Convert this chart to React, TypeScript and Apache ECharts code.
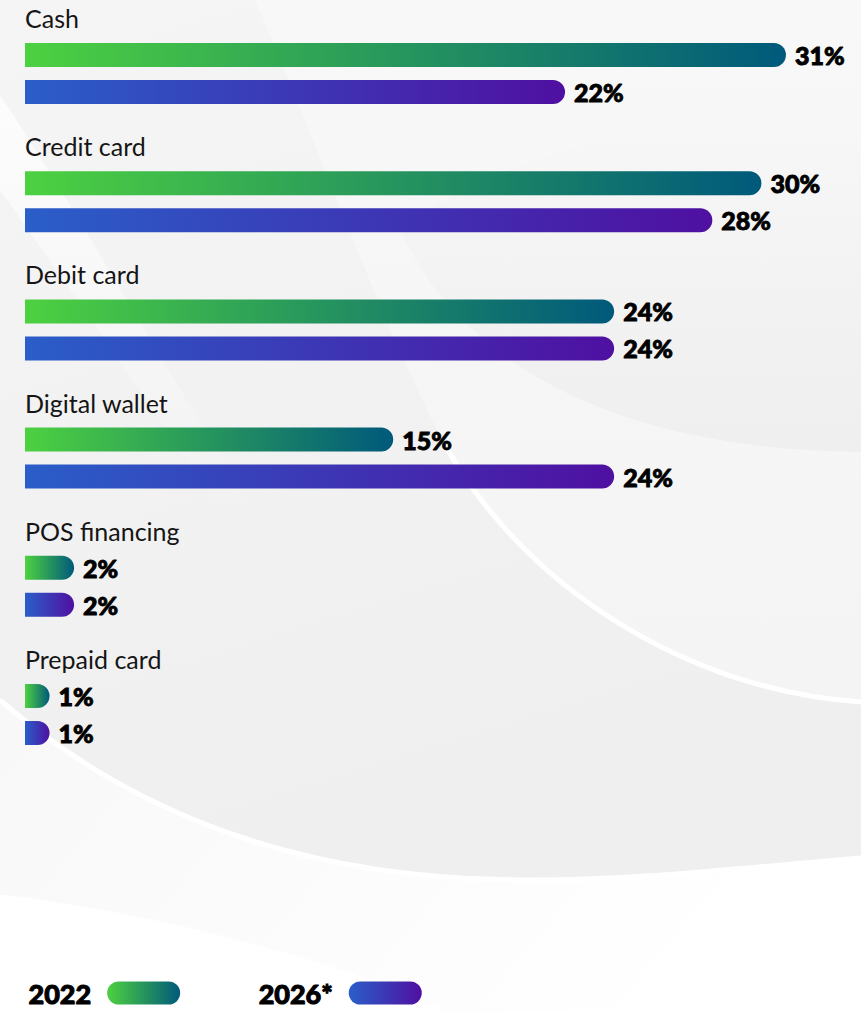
import React, { useEffect, useRef } from "react";
import * as echarts from "echarts";

const categories = ["Cash", "Credit card", "Debit card", "Digital wallet", "POS financing", "Prepaid card"];
const values2022 = [31, 30, 24, 15, 2, 1];
const values2026 = [22, 28, 24, 24, 2, 1];
const seriesNames = ["2022", "2026*"];

const greenStops = ["#4dd140", "#00597b"];
const blueStops = ["#2a5ec9", "#4f10a1"];

const FONT = "Lato, 'Noto Sans', sans-serif";

function grad(stops: string[]) {
  return new echarts.graphic.LinearGradient(0, 0, 1, 0, [
    { offset: 0, color: stops[0] },
    { offset: 1, color: stops[1] },
  ]);
}

const C1 = "M445,445 C520,580 680,690 861,702";
const C2 = "M0,700 C150,830 330,880 527,880 C650,880 760,866 861,858";
const C3 = "M0,897 C150,915 330,960 440,1011";

export default function App() {
  const ref = useRef<HTMLDivElement>(null);
  useEffect(() => {
    document.body.style.margin = "0";
    const reg = (name: string, d: string) =>
      echarts.graphic.registerShape(name, echarts.graphic.extendPath(d, {}) as any);
    reg("bgRight", "M255,0 L861,0 L861,702 C680,690 520,580 445,445 C380,320 320,150 255,0 Z");
    reg("bgInner", "M400,230 C470,380 640,450 861,452 L861,120 C700,110 520,140 400,230 Z");
    reg("bgMid", "M0,420 L0,700 C150,830 330,880 527,880 C650,880 760,866 861,858 L861,702 C680,690 520,580 445,445 C380,320 320,150 255,0 L0,0 Z");
    reg("bgLow", "M0,700 C150,830 330,880 527,880 C650,880 760,866 861,858 L861,1011 L0,1011 Z");
    reg("bgBottom", "M0,897 C150,915 330,960 440,1011 L0,1011 Z");
    reg("bgBand", "M0,95 C90,230 170,380 262,520 L225,520 C150,400 70,290 0,190 Z");
    reg("lineC1", C1);
    reg("lineC2", C2);
    reg("lineC3", C3);

    const chart = echarts.init(ref.current!, null, { renderer: "svg" });
    const vGrad = (a: string, b: string, x2 = 0, y2 = 1) =>
      new echarts.graphic.LinearGradient(0, 0, x2, y2, [
        { offset: 0, color: a },
        { offset: 1, color: b },
      ]);
    const bg: any[] = [
      { type: "rect", shape: { x: 0, y: 0, width: 861, height: 1011 }, style: { fill: vGrad("#f0f0f0", "#fdfdfd", 1, 1) } },
      { type: "bgMid", style: { fill: vGrad("#f5f5f5", "#efefef", 0.3, 1) } },
      { type: "bgRight", style: { fill: vGrad("#f8f8f8", "#f4f4f4", 0, 1) } },
      { type: "bgInner", style: { fill: vGrad("rgba(239,239,239,0)", "rgba(239,239,239,1)", 0, 1) } },
      { type: "bgLow", style: { fill: vGrad("#f8f8f8", "#ffffff", 1, 0.3) } },
      { type: "bgBottom", style: { fill: "#ffffff" } },
      { type: "bgBand", style: { fill: vGrad("rgba(255,255,255,0.75)", "rgba(255,255,255,0)", 0, 1) } },
      { type: "lineC1", style: { fill: "none", stroke: "#ffffff", lineWidth: 5 } },
      { type: "lineC2", style: { fill: "none", stroke: "#ffffff", lineWidth: 5 } },
      { type: "lineC3", style: { fill: "none", stroke: "#ffffff", lineWidth: 5 } },
    ].map((e) => ({ ...e, z: -10, silent: true }));

    const valueLabel = {
      show: true,
      position: "right",
      distance: 9,
      formatter: "{c}%",
      fontFamily: FONT,
      fontWeight: 900,
      fontSize: 25,
      color: "#000",
      textBorderColor: "#000",
      textBorderWidth: 0.9,
    };
    const pill = "path://M11.5,0 L61.5,0 A11.5,11.5 0 0 1 61.5,23 L11.5,23 A11.5,11.5 0 0 1 11.5,0 Z";
    const GAP = "54.17%";

    chart.setOption({
      animation: false,
      backgroundColor: "#f6f6f6",
      graphic: { elements: bg },
      grid: { left: 25, right: 50.5, top: 0, bottom: 241.8 },
      xAxis: { type: "value", min: 0, max: 32, show: false },
      yAxis: { type: "category", data: categories, inverse: true, show: false },
      legend: {
        data: seriesNames.map((n, i) => ({ name: n, itemStyle: { color: grad(i === 0 ? greenStops : blueStops) } })),
        left: 28,
        top: 979,
        padding: 0,
        align: "right",
        itemWidth: 73,
        itemHeight: 23,
        itemGap: 78,
        icon: pill,
        selectedMode: false,
        textStyle: {
          fontFamily: FONT,
          fontWeight: 900,
          fontSize: 27,
          lineHeight: 28,
          color: "#000",
          textBorderColor: "#000",
          textBorderWidth: 1,
          padding: [0, 11, 0, 0],
        },
      },
      series: [
        {
          name: "category",
          type: "bar",
          data: categories.map(() => 0),
          barWidth: 24,
          barGap: GAP,
          silent: true,
          itemStyle: { color: "transparent" },
          label: {
            show: true,
            position: "right",
            distance: 0,
            formatter: (p: any) => categories[p.dataIndex],
            fontFamily: FONT,
            fontSize: 25,
            color: "#151515",
          },
        },
        {
          name: seriesNames[0],
          type: "bar",
          data: values2022,
          barWidth: 24,
          barGap: GAP,
          itemStyle: { color: grad(greenStops), borderRadius: [0, 12, 12, 0] },
          label: valueLabel,
        },
        {
          name: seriesNames[1],
          type: "bar",
          data: values2026,
          barWidth: 24,
          barGap: GAP,
          itemStyle: { color: grad(blueStops), borderRadius: [0, 12, 12, 0] },
          label: valueLabel,
        },
        {
          name: "spacer",
          type: "bar",
          data: categories.map(() => 0),
          barWidth: 5.2,
          barGap: GAP,
          silent: true,
          itemStyle: { color: "transparent" },
        },
      ],
    });
    return () => chart.dispose();
  }, []);
  return <div ref={ref} style={{ width: 861, height: 1011 }} />;
}
